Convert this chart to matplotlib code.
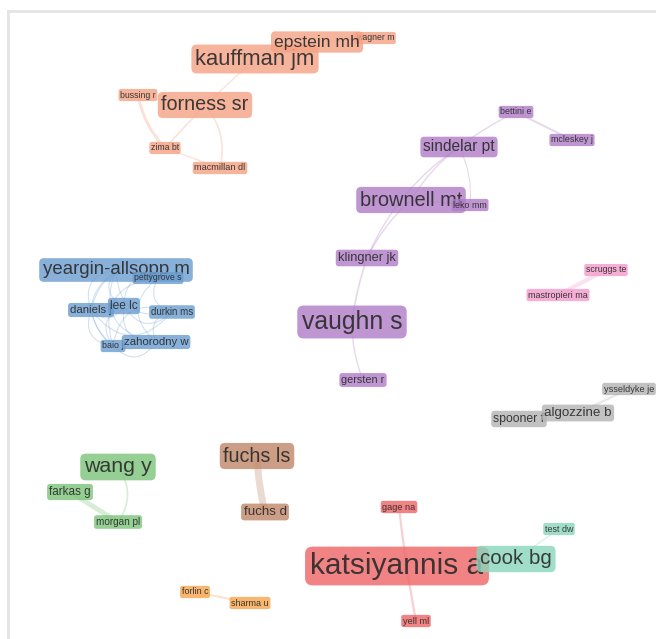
import matplotlib
matplotlib.use("Agg")
import matplotlib.pyplot as plt
from matplotlib.patches import FancyArrowPatch
from matplotlib.colors import to_rgba
from itertools import combinations

plt.rcParams['font.family'] = ['Liberation Sans', 'DejaVu Sans']

# cluster colours
cluster_colors = {
    'salmon': '#F5A283',
    'purple': '#B07CC6',
    'blue': '#6B9DD0',
    'pink': '#F39ACB',
    'gray': '#B3B3B3',
    'green': '#7CC47A',
    'brown': '#C08668',
    'orange': '#F7A54C',
    'red': '#EE6467',
    'teal': '#8AD6BC',
}

# nodes, drawn in list order
labels = ['wagner m', 'kauffman jm', 'epstein mh', 'bussing r', 'zima bt', 'macmillan dl', 'forness sr',
          'bettini e', 'mcleskey j', 'sindelar pt', 'brownell mt', 'leko mm', 'klingner jk', 'vaughn s', 'gersten r',
          'yeargin-allsopp m', 'pettygrove s', 'daniels j', 'lee lc', 'durkin ms', 'baio j', 'zahorodny w',
          'scruggs te', 'mastropieri ma',
          'ysseldyke je', 'spooner f', 'algozzine b',
          'wang y', 'farkas g', 'morgan pl',
          'fuchs ls', 'fuchs d',
          'forlin c', 'sharma u',
          'gage na', 'yell ml', 'katsiyannis a', 'test dw', 'cook bg']
node_x = [375, 255, 317, 138, 165, 220, 205,
          516, 572, 459, 411, 470, 367, 352, 363,
          116, 158, 91, 124, 172, 113, 156,
          606, 558,
          629, 519, 578,
          118, 70, 118,
          257, 265,
          195, 250,
          399, 416, 397, 559, 516]
node_y = [38, 59, 42, 95, 148, 168, 105,
          112, 140, 147, 200, 205, 258, 322, 380,
          270, 278, 310, 306, 312, 346, 342,
          270, 295,
          389, 419, 413,
          467, 492, 522,
          456, 512,
          592, 603,
          507, 621, 566, 529, 559]
font_pt = [6.3, 15.8, 12.6, 6.3, 6.3, 6.6, 14.2,
           6.4, 6.4, 11.2, 14.4, 6.4, 9.2, 17.8, 7.8,
           13.4, 6.2, 8.2, 8.6, 7.0, 6.4, 8.2,
           6.3, 6.5,
           6.6, 8.8, 9.6,
           15.4, 8.4, 7.2,
           14.2, 9.6,
           6.5, 6.5,
           6.6, 6.6, 21.5, 6.4, 14.8]
node_cluster = ['salmon'] * 7 + ['purple'] * 8 + ['blue'] * 7 + ['pink'] * 2 + ['gray'] * 3 + \
               ['green'] * 3 + ['brown'] * 2 + ['orange'] * 2 + ['red'] * 3 + ['teal'] * 2

# links: source, target, strength, bend
blue_nodes = ['pettygrove s', 'yeargin-allsopp m', 'daniels j', 'lee lc', 'durkin ms', 'baio j', 'zahorodny w']
edge_src = ['forness sr', 'forness sr', 'bussing r', 'forness sr', 'zima bt', 'kauffman jm', 'epstein mh',
            'bettini e', 'bettini e', 'sindelar pt', 'sindelar pt', 'brownell mt', 'brownell mt', 'klingner jk',
            'vaughn s', 'sindelar pt',
            'scruggs te', 'ysseldyke je', 'farkas g', 'wang y', 'fuchs ls', 'forlin c', 'gage na', 'test dw']
edge_dst = ['kauffman jm', 'zima bt', 'zima bt', 'macmillan dl', 'macmillan dl', 'epstein mh', 'wagner m',
            'mcleskey j', 'sindelar pt', 'brownell mt', 'leko mm', 'leko mm', 'klingner jk', 'vaughn s',
            'gersten r', 'klingner jk',
            'mastropieri ma', 'algozzine b', 'morgan pl', 'morgan pl', 'fuchs d', 'sharma u', 'yell ml', 'cook bg']
edge_w = [1.0, 1.2, 2.2, 1.2, 1.0, 1.0, 1.0,
          1.4, 1.0, 1.0, 0.8, 0.8, 1.0, 1.2, 1.0, 1.0,
          3.0, 1.6, 3.5, 1.2, 5.0, 1.5, 1.6, 1.0]
edge_rad = [0.0, 0.0, 0.15, -0.25, 0.0, 0.0, 0.0,
            0.0, 0.05, 0.1, -0.15, 0.0, 0.1, 0.05, 0.1, 0.15,
            0.0, 0.0, 0.0, -0.35, 0.05, 0.0, 0.02, 0.0]
for a, b in combinations(blue_nodes, 2):
    edge_src.append(a)
    edge_dst.append(b)
    edge_w.append(0.8)
    edge_rad.append(0.6)

fig = plt.figure(figsize=(6.56, 6.39), dpi=100)
ax = fig.add_axes([8 / 656, 0, 648 / 656, 628 / 639])
ax.set_xlim(8, 656)
ax.set_ylim(639, 11)
ax.set_xticks([])
ax.set_yticks([])
for s in ['right', 'bottom']:
    ax.spines[s].set_visible(False)
for s in ['left', 'top']:
    ax.spines[s].set_color('#e4e4e4')
    ax.spines[s].set_linewidth(2)

idx = {l: i for i, l in enumerate(labels)}
for a, b, w, r in zip(edge_src, edge_dst, edge_w, edge_rad):
    i, j = idx[a], idx[b]
    col = cluster_colors[node_cluster[i]]
    p = FancyArrowPatch((node_x[i], node_y[i]), (node_x[j], node_y[j]),
                        connectionstyle=f'arc3,rad={r}', arrowstyle='-',
                        lw=w, color=col, alpha=0.3, zorder=1)
    ax.add_patch(p)

for k, (lab, x, y, fs, cl) in enumerate(zip(labels, node_x, node_y, font_pt, node_cluster)):
    fc = to_rgba(cluster_colors[cl], 0.8)
    ax.text(x, y, lab, fontsize=fs, ha='center', va='center', color='#2a2a2a', alpha=0.9,
            zorder=2 + k,
            bbox=dict(boxstyle='round,pad=0.18,rounding_size=0.25', fc=fc, ec='none'))

fig.savefig('out.png', dpi=100, facecolor='white')
